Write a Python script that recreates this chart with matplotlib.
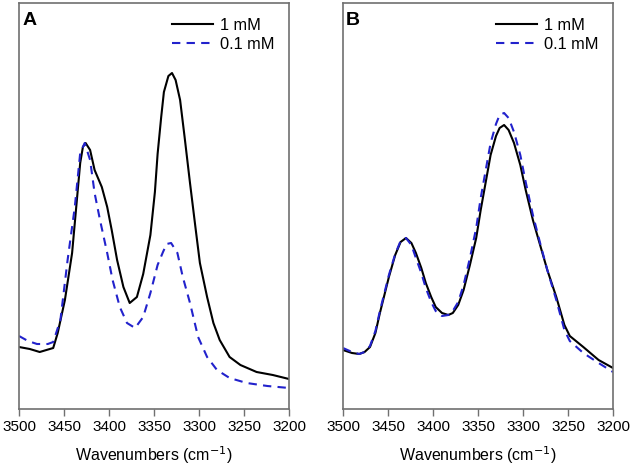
import matplotlib
matplotlib.use("Agg")
import matplotlib.pyplot as plt

plt.rcParams['font.family'] = ['Liberation Sans', 'DejaVu Sans']

# Panel A
wn_a_1mm = [3500, 3488, 3477, 3462, 3457, 3449, 3441, 3436, 3432, 3429, 3426, 3421,
            3416, 3408, 3402, 3397, 3391, 3384, 3377, 3369, 3362, 3354, 3349, 3346,
            3342, 3339, 3334, 3330, 3326, 3321, 3316, 3310, 3304, 3299, 3291, 3284,
            3277, 3266, 3254, 3236, 3218, 3200]
abs_a_1mm = [0.62, 0.60, 0.57, 0.61, 0.76, 1.09, 1.56, 2.06, 2.46, 2.62, 2.66, 2.59,
             2.39, 2.22, 2.02, 1.79, 1.49, 1.22, 1.06, 1.12, 1.35, 1.74, 2.17, 2.55,
             2.92, 3.17, 3.33, 3.36, 3.29, 3.09, 2.72, 2.26, 1.82, 1.46, 1.12, 0.86,
             0.69, 0.52, 0.44, 0.37, 0.34, 0.30]

wn_a_01mm = [3500, 3490, 3480, 3468, 3462, 3454, 3446, 3438, 3432, 3427, 3421, 3416,
             3410, 3402, 3396, 3388, 3380, 3371, 3362, 3354, 3346, 3340, 3336, 3331,
             3324, 3318, 3310, 3301, 3291, 3280, 3266, 3247, 3224, 3200]
abs_a_01mm = [0.73, 0.68, 0.65, 0.65, 0.67, 0.89, 1.49, 2.02, 2.56, 2.66, 2.49, 2.16,
              1.89, 1.56, 1.29, 1.02, 0.86, 0.81, 0.92, 1.16, 1.44, 1.57, 1.65, 1.66,
              1.56, 1.32, 1.06, 0.72, 0.52, 0.39, 0.31, 0.26, 0.23, 0.21]

# Panel B
wn_b = [3500, 3490, 3482, 3476, 3470, 3464, 3459, 3449, 3442, 3436, 3430, 3424,
        3419, 3413, 3408, 3402, 3397, 3390, 3383, 3378, 3372, 3366, 3359, 3352,
        3347, 3341, 3336, 3330, 3326, 3321, 3316, 3310, 3303, 3297, 3289, 3281,
        3273, 3263, 3254, 3248, 3233, 3216, 3200]
abs_b_1mm = [0.59, 0.56, 0.55, 0.57, 0.62, 0.76, 0.96, 1.32, 1.54, 1.67, 1.71, 1.66,
             1.56, 1.41, 1.26, 1.12, 1.02, 0.96, 0.94, 0.96, 1.04, 1.19, 1.44, 1.71,
             1.99, 2.29, 2.54, 2.73, 2.81, 2.84, 2.79, 2.66, 2.44, 2.19, 1.89, 1.64,
             1.39, 1.12, 0.84, 0.73, 0.62, 0.49, 0.41]
abs_b_01mm = [0.61, 0.57, 0.55, 0.57, 0.63, 0.78, 0.98, 1.34, 1.55, 1.68, 1.71, 1.64,
              1.51, 1.36, 1.21, 1.07, 0.98, 0.93, 0.94, 0.98, 1.07, 1.24, 1.51, 1.81,
              2.11, 2.41, 2.66, 2.85, 2.94, 2.96, 2.91, 2.77, 2.54, 2.27, 1.94, 1.66,
              1.39, 1.09, 0.79, 0.68, 0.56, 0.46, 0.37]

labels = ["1 mM", "0.1 mM"]
blue = "#2222cc"
spine_col = "#707070"

fig = plt.figure(figsize=(6.32, 4.67), dpi=100)
ax_a = fig.add_axes([19 / 632, 58 / 467, 270 / 632, 406 / 467])
ax_b = fig.add_axes([343 / 632, 58 / 467, 270 / 632, 406 / 467])

panels = [
    (ax_a, "A", wn_a_1mm, abs_a_1mm, wn_a_01mm, abs_a_01mm),
    (ax_b, "B", wn_b, abs_b_1mm, wn_b, abs_b_01mm),
]

for ax, tag, x1, y1, x2, y2 in panels:
    ax.plot(x1, y1, color="black", lw=1.5, label=labels[0])
    ax.plot(x2, y2, color=blue, lw=1.5, ls=(0, (4, 3)), label=labels[1])
    ax.set_xlim(3500, 3200)
    ax.set_ylim(0, 4.06)
    ax.set_xticks([3500, 3450, 3400, 3350, 3300, 3250, 3200])
    ax.set_yticks([])
    ax.tick_params(axis="x", direction="out", length=5, width=1,
                   color=spine_col, labelsize=11, pad=3)
    for sp in ax.spines.values():
        sp.set_color(spine_col)
        sp.set_linewidth(1.2)
    ax.set_xlabel("Wavenumbers (cm$^{-1}$)", fontsize=11.5, labelpad=7)
    ax.text(0.012, 0.978, tag, transform=ax.transAxes, fontsize=14,
            fontweight="bold", va="top", ha="left")
    ax.legend(loc="upper right", bbox_to_anchor=(1.0, 1.0), frameon=False,
              fontsize=11.8, handlelength=2.5, handletextpad=0.4,
              labelspacing=0.25, borderaxespad=0.5)

plt.savefig("out.png", dpi=100)
